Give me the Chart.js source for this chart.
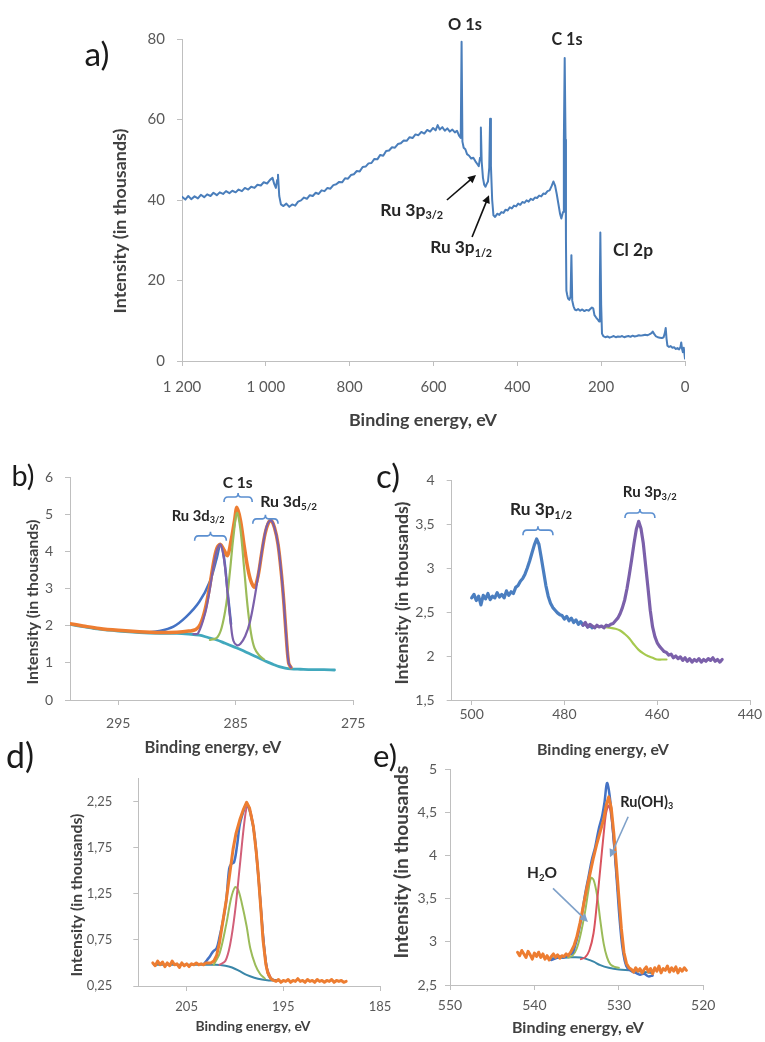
<!DOCTYPE html>
<html>
<head>
<meta charset="utf-8">
<script src="https://cdn.jsdelivr.net/npm/chart.js@4.4.1/dist/chart.umd.min.js"></script>
<style>
  html, body { margin: 0; padding: 0; background: #fff; }
  #fig { position: relative; width: 765px; height: 1042px; overflow: hidden; background: #fff; }
  #fig canvas { position: absolute; left: 0; top: 0; }
</style>
</head>
<body>
<div id="fig">
  <canvas id="pa" width="765" height="1042"></canvas>
  <canvas id="pb" width="765" height="1042"></canvas>
  <canvas id="pc" width="765" height="1042"></canvas>
  <canvas id="pd" width="765" height="1042"></canvas>
  <canvas id="pe" width="765" height="1042"></canvas>
</div>
<script>
// ---------- a) survey spectrum ----------
const surveyEnergy = [1200,1192,1185,1178,1170,1162,1155,1147,1140,1132,1125,1117,1110,1102,1095,1087,1080,1072,1065,1057,1050,1042,1035,1027,1020,1012,1005,997,990,984,980,976,973,971,968,964,958,951,944,937,930,923,916,909,902,895,888,881,874,867,860,853,846,839,832,825,818,811,804,797,790,783,776,769,762,755,748,741,734,727,720,713,706,699,692,685,678,671,664,657,650,643,636,629,622,615,608,601,595,590,585,579,573,567,561,555,549,544,539,535,533,531,528,524,520,515,510,505,500,496,492,489,487,485,482,479,476,473,470,467,465,463,460,457,453,448,443,438,433,428,423,418,413,408,403,398,393,388,383,378,373,368,363,358,353,348,343,338,333,328,323,318,314,310,306,302,298,295,291,289,287,285,284,283,281,279,276,273,271,269,266,263,259,255,250,245,240,235,230,226,222,219,216,212,208,205,203,202,200,198,195,190,185,180,175,170,165,160,155,150,145,140,135,130,125,120,115,110,105,100,95,90,85,80,77,74,70,65,60,55,51,48,46,44,42,38,34,30,26,22,18,14,11,9,7,5,3,1,0];
const surveyIntensity = [40.8,40.1,41.0,40.2,40.9,40.4,41.3,40.7,41.4,41.0,41.8,41.2,41.9,41.5,42.2,41.7,42.3,41.9,42.6,42.2,43.0,42.6,43.3,43.0,43.8,43.6,44.4,44.1,45.0,45.5,44.0,43.0,45.0,46.3,41.0,38.9,38.5,39.1,38.3,38.9,38.6,39.6,39.9,40.6,40.3,41.2,41.0,41.8,41.5,42.4,42.2,43.0,42.8,43.7,43.9,44.5,44.4,45.4,45.3,46.2,46.4,47.2,47.1,48.2,48.3,49.1,49.2,50.2,50.1,51.2,51.0,52.2,52.3,53.1,53.0,53.9,54.1,54.8,54.7,55.6,55.4,56.3,56.1,56.9,56.5,57.4,57.0,57.9,57.3,58.6,57.5,58.1,57.2,57.8,57.0,57.5,56.8,57.2,56.0,55.4,79.3,54.5,53.0,52.6,51.4,51.0,50.3,50.5,49.6,49.0,48.4,50.5,58.0,49.5,45.5,43.8,43.3,44.0,44.6,48.0,60.2,48.5,40.0,36.2,35.8,36.6,36.3,37.0,36.8,37.6,37.4,38.2,37.9,38.6,38.4,39.1,38.8,39.5,39.3,39.9,39.6,40.3,40.0,40.6,40.5,41.1,40.9,41.6,41.5,42.2,42.4,43.5,44.6,43.6,41.5,39.0,36.5,35.4,37.0,55.0,75.3,55.0,30.0,17.5,16.4,15.5,15.2,16.0,26.3,15.0,13.6,12.8,12.6,12.9,12.5,12.8,12.4,12.7,12.5,12.9,13.3,13.1,11.4,10.8,10.3,9.8,20.0,31.9,14.0,6.8,6.2,5.9,6.1,5.8,6.0,6.2,5.9,6.1,6.0,6.2,5.9,6.1,6.2,6.0,6.3,6.1,6.2,6.4,6.3,6.4,6.5,6.4,6.6,6.9,7.3,6.8,6.2,5.9,5.8,5.7,5.9,7.0,8.2,5.5,3.8,3.5,3.7,3.3,3.4,3.0,3.2,2.9,3.4,4.6,3.0,2.2,3.3,1.5,0.6];
const surveyXTicks = [0,200,400,600,800,1000,1200];
const surveyYTicks = [0,20,40,60,80];

// ---------- b) C 1s / Ru 3d region ----------
const c1sEnvelopeEV = [299.1,298,296.6,295,293.2,291.5,290,289,288.4,288.0,287.6,287.2,286.9,286.6,286.3,286.0,285.7,285.4,285.1,284.9,284.6,284.3,284.0,283.7,283.4,283.1,282.8,282.5,282.2,282.0,281.7,281.4,281.1,280.9,280.7,280.5,280.3];
const c1sEnvelope   = [2.06,2.0,1.93,1.88,1.84,1.82,1.83,1.86,1.9,2.05,2.45,3.1,3.69,4.1,4.2,4.05,3.9,4.3,4.85,5.2,4.85,4.2,3.6,3.2,3.05,3.35,3.95,4.5,4.8,4.85,4.65,4.2,3.35,2.6,1.7,1.0,0.88];
const c1sShoulderEV = [292.5,291.5,290.3,289.2,288.1,287.2,286.6,286.3,286.0,285.7,285.4];
const c1sShoulder   = [1.83,1.86,1.98,2.25,2.65,3.2,3.85,4.2,3.85,2.95,2.05];
const ru3dEV = [288.6,288.2,287.6,287.2,286.9,286.6,286.3,286.0,285.7,285.4,285.2,284.9,284.6,284.2,283.8,283.4,283.0,282.6,282.3,282.0,281.7,281.4,281.1,280.9,280.7,280.5,280.3];
const ru3d   = [1.78,1.8,2.35,3.0,3.6,4.05,4.2,3.8,2.9,2.0,1.6,1.48,1.52,1.72,2.1,2.75,3.55,4.35,4.75,4.85,4.65,4.2,3.35,2.6,1.7,1.0,0.88];
const c1sCompEV = [287.2,286.6,286.2,285.8,285.5,285.2,284.9,284.6,284.3,284.0,283.7,283.4,283.0,282.6];
const c1sComp   = [1.62,1.68,1.95,2.6,3.45,4.4,5.05,4.6,3.6,2.55,1.8,1.4,1.2,1.1];
const c1sBgEV = [299.1,298,296.6,295,293.2,291.5,290,289,288.1,287.3,286.6,285.9,285.2,284.5,283.9,283.2,282.5,281.8,281.3,280.8,280.3,279.5,278.5,277.5,276.6];
const c1sBg   = [2.04,1.98,1.91,1.86,1.82,1.8,1.8,1.78,1.75,1.68,1.62,1.53,1.44,1.35,1.26,1.16,1.05,0.96,0.9,0.86,0.84,0.83,0.82,0.82,0.81];
const c1sXTicks = [275,285,295];
const c1sYTicks = [0,1,2,3,4,5,6];

// ---------- c) Ru 3p region ----------
const ru3p12EV = [500,499.5,499,498.5,498,497.5,497,496.5,496,495.5,495,494.5,494,493.5,493,492.5,492,491.5,491,490.5,490,489.5,489,488.5,488,487.5,487,486.5,486,485.5,485,484.5,484,483.5,483,482.5,482,481.5,481,480.5,480,479.5,479,478.5,478,477.5,477,476.5,476,475.5,475,474.5,474];
const ru3p12   = [2.66,2.70,2.63,2.68,2.58,2.69,2.65,2.71,2.64,2.68,2.66,2.72,2.67,2.70,2.66,2.74,2.69,2.73,2.71,2.78,2.80,2.85,2.88,2.93,3.00,3.08,3.17,3.26,3.33,3.27,3.12,2.96,2.80,2.68,2.60,2.55,2.52,2.49,2.47,2.46,2.42,2.45,2.40,2.43,2.38,2.41,2.36,2.39,2.35,2.37,2.33,2.35,2.32];
const ru3p32EV = [476,475.5,475,474.5,474,473.5,473,472.5,472,471.5,471,470.5,470,469.5,469,468.5,468,467.5,467,466.5,466,465.5,465,464.5,464,463.5,463,462.5,462,461.5,461,460.5,460,459.5,459,458.5,458,457.5,457,456.5,456,455.5,455,454.5,454,453.5,453,452.5,452,451.5,451,450.5,450,449.5,449,448.5,448,447.5,447,446.5,446];
const ru3p32   = [2.35,2.38,2.33,2.36,2.34,2.32,2.35,2.33,2.34,2.32,2.35,2.34,2.36,2.37,2.40,2.43,2.48,2.55,2.64,2.77,2.93,3.10,3.28,3.44,3.53,3.45,3.28,3.03,2.78,2.52,2.33,2.22,2.15,2.11,2.08,2.05,2.04,2.01,2.02,1.98,2.00,1.97,1.99,1.95,1.98,1.94,1.97,1.93,1.96,1.94,1.97,1.93,1.96,1.94,1.97,1.95,1.98,1.94,1.96,1.93,1.96];
const ru3pBgEV = [475,472,470,469,468,467,466,465,464,463,462,461,460,459,458];
const ru3pBg   = [2.33,2.33,2.32,2.31,2.29,2.25,2.20,2.13,2.07,2.03,2.00,1.98,1.96,1.96,1.96];
const ru3pXTicks = [440,460,480,500];
const ru3pYTicks = [1.5,2,2.5,3,3.5,4];

// ---------- d) Cl 2p region ----------
const cl2pRawEV = [208.5,208.25,208,207.75,207.5,207.25,207,206.75,206.5,206.25,206,205.75,205.5,205.25,205,204.75,204.5,204.25,204,203.75,203.5,203.25,203,202.5,202.2,201.9,201.6,201.3,200.9,200.6,200.2,199.9,199.5,199.1,198.8,198.5,198.1,197.8,197.6,197.3,197.1,196.8,196.6,196.3,196.0,195.75,195.5,195.25,195,194.75,194.5,194.25,194,193.75,193.5,193.25,193,192.75,192.5,192.25,192,191.75,191.5,191.25,191,190.75,190.5,190.25,190,189.75,189.5,189.25,189,188.75,188.5];
const cl2pRaw   = [0.50,0.47,0.52,0.48,0.51,0.46,0.50,0.47,0.52,0.48,0.49,0.45,0.50,0.47,0.49,0.46,0.49,0.48,0.50,0.48,0.49,0.48,0.50,0.50,0.52,0.58,0.72,0.92,1.18,1.42,1.73,1.90,2.05,2.17,2.24,2.18,1.98,1.70,1.47,1.05,0.75,0.48,0.39,0.33,0.31,0.30,0.32,0.29,0.31,0.30,0.32,0.29,0.31,0.30,0.33,0.30,0.31,0.29,0.32,0.30,0.31,0.29,0.32,0.30,0.31,0.29,0.31,0.30,0.32,0.29,0.31,0.30,0.31,0.29,0.30];
const cl2pSumEV = [203.2,202.9,202.6,202.3,201.9,201.6,201.2,200.9,200.6,200.4,200.1,199.8,199.5,199.1,198.8,198.4,198.0,197.7,197.4,197.1,196.8,196.5,196.1,195.5];
const cl2pSum   = [0.49,0.53,0.57,0.62,0.66,0.78,0.98,1.18,1.52,1.57,1.59,1.76,2.0,2.15,2.22,2.12,1.9,1.58,1.2,0.8,0.5,0.36,0.32,0.31];
const cl2p12EV = [202.2,201.6,200.9,200.4,200.0,199.7,199.3,198.8,198.4,197.9,197.4,196.9];
const cl2p12   = [0.48,0.6,0.92,1.2,1.32,1.3,1.15,0.9,0.65,0.48,0.38,0.33];
const cl2p32EV = [201.6,201.0,200.5,200.0,199.5,199.0,198.7,198.3,197.9,197.5,197.1,196.7,196.3];
const cl2p32   = [0.48,0.52,0.7,1.05,1.55,2.05,2.2,2.1,1.8,1.35,0.8,0.45,0.34];
const cl2pBgEV = [208.4,202,201,200.3,199.5,198.8,198,197.2,196.5,196];
const cl2pBg   = [0.48,0.48,0.47,0.45,0.41,0.37,0.34,0.32,0.31,0.31];
const cl2pXTicks = [185,195,205];
const cl2pYTicks = [0.25,0.75,1.25,1.75,2.25];

// ---------- e) O 1s region ----------
const o1sRawEV = [542,541.75,541.5,541.25,541,540.75,540.5,540.25,540,539.75,539.5,539.25,539,538.75,538.5,538.25,538,537.75,537.5,537.25,537,536.75,536.5,536.25,536,535.7,535.3,535.0,534.6,534.2,533.8,533.4,533.0,532.6,532.2,531.8,531.5,531.2,530.9,530.6,530.3,530.0,529.7,529.4,529.1,528.8,528.5,528.25,528,527.75,527.5,527.25,527,526.75,526.5,526.25,526,525.75,525.5,525.25,525,524.75,524.5,524.25,524,523.75,523.5,523.25,523,522.75,522.5,522.25,522];
const o1sRaw   = [2.88,2.84,2.90,2.86,2.82,2.89,2.85,2.80,2.87,2.83,2.88,2.82,2.86,2.80,2.84,2.79,2.83,2.86,2.82,2.85,2.81,2.84,2.83,2.86,2.84,2.88,2.96,3.05,3.22,3.42,3.62,3.80,3.98,4.14,4.28,4.42,4.58,4.68,4.55,4.26,3.90,3.52,3.15,2.88,2.75,2.70,2.68,2.65,2.70,2.66,2.69,2.64,2.68,2.71,2.65,2.69,2.63,2.70,2.66,2.72,2.64,2.69,2.67,2.72,2.65,2.70,2.66,2.71,2.64,2.69,2.66,2.70,2.67];
const o1sSumEV = [538.5,538,537.5,537,536.5,536,535.5,535.2,534.8,534.4,534,533.6,533.2,532.8,532.4,532,531.7,531.4,531.1,530.8,530.5,530.2,529.9,529.6,529.3,529,528.5,528,527.5,527,526.5,526];
const o1sSum   = [2.82,2.79,2.81,2.83,2.82,2.85,2.87,2.95,3.1,3.3,3.55,3.75,3.95,4.1,4.3,4.45,4.62,4.84,4.7,4.4,4.05,3.65,3.25,2.95,2.78,2.7,2.66,2.64,2.62,2.63,2.6,2.61];
const o1sHydroxEV = [534.5,534,533.5,533,532.6,532.2,531.8,531.5,531.2,530.9,530.6,530.3,530.0,529.7,529.4,529.1,528.8,528.5];
const o1sHydrox   = [2.8,2.82,2.9,3.1,3.45,3.85,4.25,4.5,4.58,4.45,4.15,3.8,3.45,3.1,2.85,2.72,2.68,2.67];
const o1sWaterEV = [536,535.5,535,534.5,534,533.6,533.3,533.0,532.6,532.2,531.8,531.4,531,530.5,530];
const o1sWater   = [2.82,2.84,2.92,3.1,3.35,3.6,3.74,3.72,3.55,3.25,2.98,2.82,2.74,2.71,2.70];
const o1sBgEV = [538,536,534.5,533.8,533,532.2,531.2,530,528.5,527,526];
const o1sBg   = [2.81,2.82,2.82,2.80,2.77,2.73,2.70,2.68,2.67,2.65,2.64];
const o1sXTicks = [520,530,540,550];
const o1sYTicks = [2.5,3,3.5,4,4.5,5];

// ---------- drawing helpers ----------
const W = 765, H = 1042;
const FONT = 'Lato, "Open Sans", sans-serif';
Chart.defaults.font.family = FONT;
Chart.defaults.animation = false;

function pts(xs, ys) { return xs.map((x, i) => ({ x, y: ys[i] })); }
function series(xs, ys, color, width, smooth) {
  return { data: pts(xs, ys), borderColor: color, borderWidth: width, pointRadius: 0,
           fill: false, tension: smooth ? 0.35 : 0, borderJoinStyle: 'round', borderCapStyle: 'round' };
}
const comma = v => String(v).replace('.', ',');
const spaced = v => v >= 1000 ? Math.floor(v / 1000) + ' ' + String(v % 1000).padStart(3, '0') : String(v);

function richWidth(ctx, parts, size, weight) {
  let w = 0;
  for (const [t, sub] of parts) {
    ctx.font = `${weight} ${sub ? size * 0.62 : size}px ${FONT}`;
    w += ctx.measureText(t).width;
  }
  return w;
}
function drawRich(ctx, parts, cx, cy, width, weight, color, rot) {
  const size = 100 * width / richWidth(ctx, parts, 100, weight);
  ctx.save();
  ctx.translate(cx, cy);
  if (rot) ctx.rotate(rot);
  ctx.fillStyle = color;
  ctx.textBaseline = 'middle';
  ctx.textAlign = 'left';
  let x = -width / 2;
  for (const [t, sub] of parts) {
    ctx.font = `${weight} ${sub ? size * 0.62 : size}px ${FONT}`;
    ctx.fillText(t, x, sub ? size * 0.3 : 0);
    x += ctx.measureText(t).width;
  }
  ctx.restore();
}
function drawArrow(ctx, x1, y1, x2, y2, color, lw) {
  const a = Math.atan2(y2 - y1, x2 - x1), hl = 8, hw = 4;
  ctx.save();
  ctx.strokeStyle = color; ctx.fillStyle = color; ctx.lineWidth = lw;
  ctx.beginPath();
  ctx.moveTo(x1, y1);
  ctx.lineTo(x2 - Math.cos(a) * hl * 0.8, y2 - Math.sin(a) * hl * 0.8);
  ctx.stroke();
  ctx.beginPath();
  ctx.moveTo(x2, y2);
  ctx.lineTo(x2 - Math.cos(a) * hl + Math.sin(a) * hw, y2 - Math.sin(a) * hl - Math.cos(a) * hw);
  ctx.lineTo(x2 - Math.cos(a) * hl - Math.sin(a) * hw, y2 - Math.sin(a) * hl + Math.cos(a) * hw);
  ctx.closePath();
  ctx.fill();
  ctx.restore();
}
function drawBrace(ctx, x1, x2, y, color) {
  const l = Math.min(x1, x2), r = Math.max(x1, x2), m = (l + r) / 2;
  ctx.save();
  ctx.strokeStyle = color; ctx.lineWidth = 1.6;
  ctx.beginPath();
  ctx.moveTo(l, y + 5);
  ctx.quadraticCurveTo(l, y, l + 4, y);
  ctx.lineTo(m - 3, y);
  ctx.quadraticCurveTo(m, y, m, y - 4);
  ctx.quadraticCurveTo(m, y, m + 3, y);
  ctx.lineTo(r - 4, y);
  ctx.quadraticCurveTo(r, y, r, y + 5);
  ctx.stroke();
  ctx.restore();
}

// Annotation layer: data-anchored labels, arrows, braces, plus axis titles and panel letter.
function decor(items) {
  return {
    id: 'decor',
    afterDraw(chart) {
      const ctx = chart.ctx, sx = chart.scales.x, sy = chart.scales.y;
      const X = v => sx.getPixelForValue(v), Y = v => sy.getPixelForValue(v);
      for (const it of items) {
        if (it.kind === 'label') drawRich(ctx, it.parts, X(it.x), Y(it.y), it.w, 'bold', it.color || '#262626');
        else if (it.kind === 'text') drawRich(ctx, it.parts, it.x, it.y, it.w, it.weight || 'bold', it.color || '#404040', it.rot);
        else if (it.kind === 'arrow') drawArrow(ctx, X(it.x1), Y(it.y1), X(it.x2), Y(it.y2), it.color, it.lw || 1.5);
        else if (it.kind === 'brace') drawBrace(ctx, X(it.x1), X(it.x2), Y(it.y), it.color);
      }
    }
  };
}
const yTitle = (text, x, y, len) => ({ kind: 'text', parts: [[text]], x, y, w: len, rot: -Math.PI / 2 });
const xTitle = (x, y, w) => ({ kind: 'text', parts: [['Binding energy, eV']], x, y, w });
const letter = (t, x, y, w) => ({ kind: 'text', parts: [[t]], x, y, w, weight: 'normal', color: '#1a1a1a' });

function panel(id, area, xr, yr, xTicks, yTicks, fmtX, fmtY, tick, datasets, items) {
  const axisColor = '#bfbfbf';
  const grid = { display: true, drawOnChartArea: false, drawTicks: true, tickLength: 5, color: axisColor, lineWidth: 1 };
  new Chart(document.getElementById(id), {
    type: 'line',
    data: { datasets },
    options: {
      responsive: false,
      maintainAspectRatio: false,
      devicePixelRatio: 1,
      events: [],
      layout: { padding: { left: 0, top: area.t, right: W - area.r, bottom: 0 } },
      plugins: { legend: { display: false }, tooltip: { enabled: false } },
      scales: {
        x: {
          type: 'linear', reverse: true, min: xr[0], max: xr[1], bounds: 'data',
          grid, border: { display: true, color: axisColor, width: 1 },
          ticks: { autoSkip: false, maxRotation: 0, padding: tick.xPad, color: '#595959',
                   font: { size: tick.size }, callback: fmtX },
          afterBuildTicks: s => { s.ticks = xTicks.map(v => ({ value: v })); },
          afterFit: s => { s.height = H - area.b; }
        },
        y: {
          type: 'linear', min: yr[0], max: yr[1], bounds: 'data',
          grid, border: { display: true, color: axisColor, width: 1 },
          ticks: { autoSkip: false, padding: tick.yPad, color: '#595959',
                   font: { size: tick.size }, callback: fmtY },
          afterBuildTicks: s => { s.ticks = yTicks.map(v => ({ value: v })); },
          afterFit: s => { s.width = area.l; }
        }
      }
    },
    plugins: [decor(items)]
  });
}

// ---------- colours ----------
const ORANGE = '#ed7d31', BLUE = '#4472c4', PURPLE = '#7b60aa', GREEN = '#9bbb59',
      TEAL = '#41a8bd', DTEAL = '#3a86a8', PINK = '#d25f78', RED = '#d9545f', BRACE = '#5b8fd0';

// a) survey
panel('pa', { l: 182, t: 39, r: 685, b: 361 }, [0, 1200], [0, 80], surveyXTicks, surveyYTicks,
  spaced, v => String(v), { size: 15, xPad: 12, yPad: 12 },
  [series(surveyEnergy, surveyIntensity, '#4a7ebb', 2, false)],
  [
    { kind: 'label', parts: [['O 1s']], x: 525, y: 83.5, w: 34 },
    { kind: 'label', parts: [['C 1s']], x: 281.5, y: 79.8, w: 31 },
    { kind: 'label', parts: [['Cl 2p']], x: 124, y: 27.6, w: 40 },
    { kind: 'label', parts: [['Ru 3p'], ['3/2', 1]], x: 652, y: 37.5, w: 63 },
    { kind: 'label', parts: [['Ru 3p'], ['1/2', 1]], x: 534, y: 28.1, w: 62 },
    { kind: 'arrow', x1: 568, y1: 40, x2: 498.6, y2: 46.2, color: '#111', lw: 1.6 },
    { kind: 'arrow', x1: 508, y1: 30.8, x2: 467.6, y2: 41.2, color: '#111', lw: 1.6 },
    xTitle(423, 420, 148),
    yTitle('Intensity (in thousands)', 120, 221, 185),
    letter('a)', 97, 55, 25)
  ]);

// b) C 1s + Ru 3d
panel('pb', { l: 70, t: 477.7, r: 353.3, b: 700 }, [275, 299.1], [0, 6], c1sXTicks, c1sYTicks,
  v => String(v), v => String(v), { size: 14, xPad: 10, yPad: 12 },
  [
    series(ru3dEV, ru3d, PURPLE, 2.2, true),
    series(c1sCompEV, c1sComp, GREEN, 2.2, true),
    series(c1sEnvelopeEV, c1sEnvelope, ORANGE, 3.5, true),
    series(c1sShoulderEV, c1sShoulder, BLUE, 2.5, true),
    series(c1sBgEV, c1sBg, TEAL, 2.8, true)
  ],
  [
    { kind: 'label', parts: [['C 1s']], x: 284.83, y: 5.86, w: 30 },
    { kind: 'brace', x1: 286.0, x2: 283.6, y: 5.48, color: BRACE },
    { kind: 'label', parts: [['Ru 3d'], ['3/2', 1]], x: 288.2, y: 4.97, w: 53 },
    { kind: 'brace', x1: 288.5, x2: 285.8, y: 4.43, color: BRACE },
    { kind: 'label', parts: [['Ru 3d'], ['5/2', 1]], x: 280.5, y: 5.35, w: 57 },
    { kind: 'brace', x1: 283.55, x2: 281.4, y: 4.89, color: BRACE },
    xTitle(213, 748, 137),
    yTitle('Intensity (in thousands)', 33, 602, 165),
    letter('b)', 23, 477, 23)
  ]);

// c) Ru 3p
panel('pc', { l: 451.7, t: 480, r: 750, b: 700 }, [440, 504.3], [1.5, 4], ru3pXTicks, ru3pYTicks,
  v => String(v), comma, { size: 14, xPad: 1, yPad: 12 },
  [
    series(ru3p32EV, ru3p32, PURPLE, 3.2, false),
    series(ru3p12EV, ru3p12, '#4a7ec0', 3.2, false),
    series(ru3pBgEV, ru3pBg, '#a6c94f', 2.2, true)
  ],
  [
    { kind: 'label', parts: [['Ru 3p'], ['1/2', 1]], x: 485.06, y: 3.66, w: 62 },
    { kind: 'brace', x1: 488.94, x2: 482.47, y: 3.43, color: BRACE },
    { kind: 'label', parts: [['Ru 3p'], ['3/2', 1]], x: 461.6, y: 3.86, w: 54 },
    { kind: 'brace', x1: 466.95, x2: 460.5, y: 3.625, color: BRACE },
    xTitle(603, 750, 132),
    yTitle('Intensity (in thousands)', 402, 593, 183),
    letter('c)', 388, 477, 24)
  ]);

// d) Cl 2p
panel('pd', { l: 138.3, t: 778.3, r: 380, b: 986 }, [185, 210], [0.25, 2.5], cl2pXTicks, cl2pYTicks,
  v => String(v), comma, { size: 13, xPad: 8, yPad: 21 },
  [
    series(cl2pRawEV, cl2pRaw, ORANGE, 3, false),
    series(cl2pSumEV, cl2pSum, BLUE, 2.5, true),
    series(cl2p32EV, cl2p32, PINK, 2, true),
    series(cl2p12EV, cl2p12, GREEN, 2, true),
    series(cl2pBgEV, cl2pBg, DTEAL, 2, true)
  ],
  [
    xTitle(253, 1027, 115),
    yTitle('Intensity (in thousands)', 77, 895, 163),
    letter('d)', 20, 757, 28)
  ]);

// e) O 1s
panel('pe', { l: 450, t: 769.3, r: 703.3, b: 985 }, [520, 550], [2.5, 5], o1sXTicks, o1sYTicks,
  v => String(v), comma, { size: 14, xPad: 7, yPad: 8 },
  [
    series(o1sRawEV, o1sRaw, ORANGE, 3, false),
    series(o1sSumEV, o1sSum, BLUE, 2.5, true),
    series(o1sHydroxEV, o1sHydrox, RED, 2, true),
    series(o1sWaterEV, o1sWater, GREEN, 2, true),
    series(o1sBgEV, o1sBg, DTEAL, 2, true)
  ],
  [
    { kind: 'label', parts: [['H'], ['2', 1], ['O']], x: 539.1, y: 3.80, w: 30 },
    { kind: 'arrow', x1: 537.8, y1: 3.62, x2: 533.66, y2: 3.23, color: '#7fa1c9', lw: 1.6 },
    { kind: 'label', parts: [['Ru(OH)'], ['3', 1]], x: 526.7, y: 4.62, w: 53 },
    { kind: 'arrow', x1: 528.9, y1: 4.45, x2: 531.05, y2: 3.98, color: '#7fa1c9', lw: 1.6 },
    xTitle(578, 1028, 132),
    yTitle('Intensity (in thousands', 402, 862, 193),
    letter('e)', 385, 757, 24)
  ]);
</script>
</body>
</html>
